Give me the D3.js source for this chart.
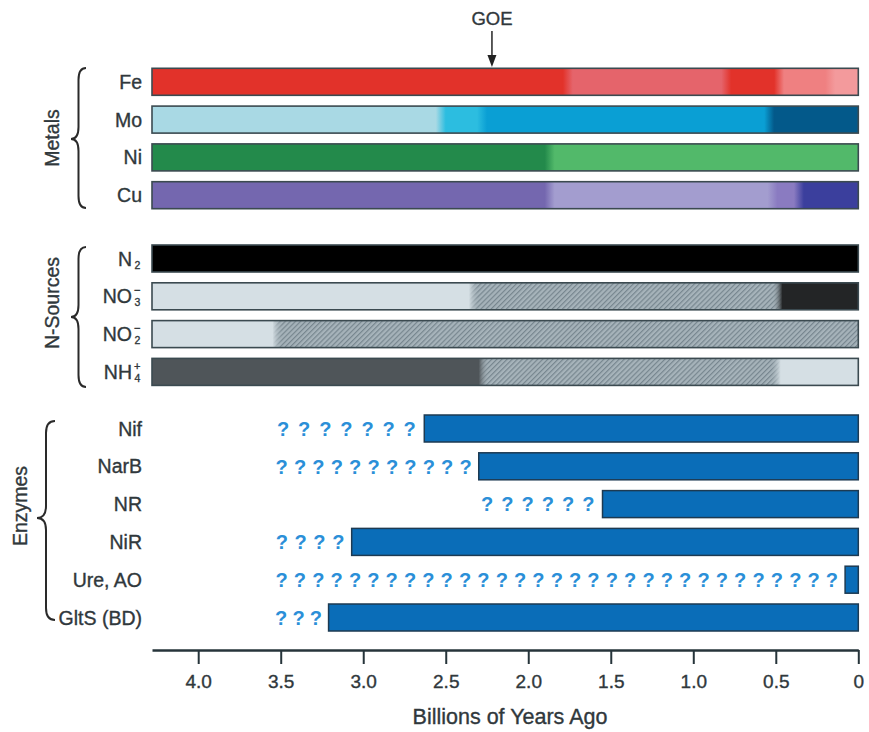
<!DOCTYPE html>
<html>
<head>
<meta charset="utf-8">
<script src="https://cdn.jsdelivr.net/npm/d3@7"></script>
<style>
  body { margin: 0; background: #fff; }
  svg text { font-family: "Liberation Sans", Arial, Helvetica, sans-serif; }
  .lbl { fill: #30383c; stroke: #30383c; stroke-width: 0.35px; }
</style>
</head>
<body>
<svg id="chart" width="869" height="732"></svg>
<script>
// ---- data ----
const axisTicks = [4.0, 3.5, 3.0, 2.5, 2.0, 1.5, 1.0, 0.5, 0];
const goeAge = 2.22;

const metalRows = ["Fe", "Mo", "Ni", "Cu"];
const metalBreaks = [[1.76, 0.80, 0.48, 0.17], [2.53, 2.28, 0.54], [1.87], [1.87, 0.52, 0.36]];
const metalStates = [
    ["feRed", "fePink", "feRed", "feLight", "feLighter"],
    ["moPale", "moCyan", "moBlue", "moDark"],
    ["niDark", "niLight"],
    ["cuPurple", "cuLav", "cuMid", "cuDark"]
];

const nRows = [
    {base: "N", sub: "2"},
    {base: "NO", sub: "3", sup: "\u2212"},
    {base: "NO", sub: "2", sup: "\u2212"},
    {base: "NH", sub: "4", sup: "+"}
];
const nBreaks = [[], [2.33, 0.49], [3.52], [2.27, 0.50]];
const nStates = [["black"], ["light", "hatch", "dark"], ["light", "hatch"], ["slate", "hatch", "light"]];

const enzymeNames = ["Nif", "NarB", "NR", "NiR", "Ure, AO", "GltS (BD)"];
const enzymeStart = [2.63, 2.30, 1.55, 3.07, 0.08, 3.21];
const questionFrom = [3.55, 3.55, 2.31, 3.55, 3.55, 3.55];
const questionCount = [7, 11, 6, 4, 31, 3];

// ---- styles ----
const stateColors = {
    feRed: "#e2322a", fePink: "#e5646b", feLight: "#ef8081", feLighter: "#f39a9c",
    moPale: "#a9d9e4", moCyan: "#2cbde0", moBlue: "#0a9fd4", moDark: "#03598a",
    niDark: "#238a4b", niLight: "#52b96a",
    cuPurple: "#7467af", cuLav: "#a39dcf", cuMid: "#8a7bc1", cuDark: "#3b3f9d",
    black: "#000000", light: "#d5dfe4", dark: "#232526", slate: "#4f5559",
    hatch: "#a3b0b7"
};
const tMax = 4.28;
const rowStep = 37.8;
const barH = 27;
const labelRight = 142;
const blend = 0.06;

const svg = d3.select("#chart");
const defs = svg.append("defs");

const x = d3.scaleLinear().domain([tMax, 0]).range([152, 858.3]);

// hatch pattern for the N-source bars
const pat = defs.append("pattern")
    .attr("id", "hatch")
    .attr("patternUnits", "userSpaceOnUse")
    .attr("width", 3.6).attr("height", 3.6)
    .attr("patternTransform", "rotate(45)");
pat.append("rect").attr("width", 3.6).attr("height", 3.6).attr("fill", "#a6b3ba");
pat.append("line").attr("x1", 0.6).attr("x2", 0.6).attr("y1", 0).attr("y2", 3.6)
    .attr("stroke", "#77868f").attr("stroke-width", 1.2);

function offset(t) {
    return (x(t) - x(tMax)) / (x(0) - x(tMax));
}

function makeGradient(id, breaks, states) {
    let g = defs.append("linearGradient")
        .attr("id", id)
        .attr("gradientUnits", "userSpaceOnUse")
        .attr("x1", x(tMax)).attr("x2", x(0))
        .attr("y1", 0).attr("y2", 0);
    let stops = [{o: 0, s: states[0]}];
    breaks.forEach(function(b, i) {
        stops.push({o: offset(b + blend / 2), s: states[i]});
        stops.push({o: offset(b - blend / 2), s: states[i + 1]});
    });
    stops.push({o: 1, s: states[states.length - 1]});
    g.selectAll("stop").data(stops).enter().append("stop")
        .attr("offset", d => d.o)
        .attr("stop-color", d => stateColors[d.s])
        .attr("stop-opacity", d => d.s === "hatch" ? 0 : 1);
}

function brace(xTip, xEnd, top, bottom, mid) {
    let xm = (xTip + xEnd) / 2;
    let r = 12;
    return "M" + xEnd + "," + top +
        " Q" + xm + "," + top + " " + xm + "," + (top + r) +
        " L" + xm + "," + (mid - r) +
        " Q" + xm + "," + mid + " " + xTip + "," + mid +
        " Q" + xm + "," + mid + " " + xm + "," + (mid + r) +
        " L" + xm + "," + (bottom - r) +
        " Q" + xm + "," + bottom + " " + xEnd + "," + bottom;
}

function groupLabel(text, cx, cy) {
    svg.append("text")
        .attr("class", "lbl")
        .attr("transform", "translate(" + cx + "," + cy + ") rotate(-90)")
        .attr("text-anchor", "middle")
        .attr("dy", "0.35em")
        .style("font-size", "19.5px")
        .text(text);
}

// ---- Metals ----
const yMetal = d3.scaleBand().domain(metalRows).range([68.3, 68.3 + metalRows.length * rowStep]);
metalRows.forEach(function(name, i) {
    makeGradient("metal" + i, metalBreaks[i], metalStates[i]);
});
svg.selectAll(".metal_bar").data(metalRows).enter().append("rect")
    .attr("class", "metal_bar")
    .attr("x", x(tMax)).attr("width", x(0) - x(tMax))
    .attr("y", d => yMetal(d)).attr("height", barH)
    .attr("fill", (d, i) => "url(#metal" + i + ")")
    .attr("stroke", "#3b4a50").attr("stroke-width", 1.6);
svg.selectAll(".metal_label").data(metalRows).enter().append("text")
    .attr("class", "metal_label lbl")
    .attr("x", labelRight).attr("y", d => yMetal(d) + barH / 2)
    .attr("dy", "0.36em").attr("text-anchor", "end")
    .style("font-size", "19.5px")
    .text(d => d);

// ---- N sources ----
const nKeys = nRows.map((d, i) => "n" + i);
const yN = d3.scaleBand().domain(nKeys).range([245, 245 + nRows.length * rowStep]);
nRows.forEach(function(d, i) {
    makeGradient("nsrc" + i, nBreaks[i], nStates[i]);
});
svg.selectAll(".n_hatch").data(nKeys).enter().append("rect")
    .attr("class", "n_hatch")
    .attr("x", x(tMax)).attr("width", x(0) - x(tMax))
    .attr("y", d => yN(d)).attr("height", barH)
    .attr("fill", "url(#hatch)");
svg.selectAll(".n_bar").data(nKeys).enter().append("rect")
    .attr("class", "n_bar")
    .attr("x", x(tMax)).attr("width", x(0) - x(tMax))
    .attr("y", d => yN(d)).attr("height", barH)
    .attr("fill", (d, i) => "url(#nsrc" + i + ")")
    .attr("stroke", "#3b4a50").attr("stroke-width", 1.6);

// formula labels: main text plus stacked sub/superscript
nRows.forEach(function(d, i) {
    let cy = yN(nKeys[i]) + barH / 2;
    svg.append("text")
        .attr("class", "lbl")
        .attr("x", labelRight - 10).attr("y", cy)
        .attr("dy", "0.36em").attr("text-anchor", "end")
        .style("font-size", "19.5px")
        .text(d.base);
    if (d.sub) {
        svg.append("text")
            .attr("class", "lbl")
            .attr("x", labelRight - 7.5).attr("y", cy + 10)
            .style("font-size", "10.5px")
            .text(d.sub);
    }
    if (d.sup) {
        svg.append("text")
            .attr("class", "lbl")
            .attr("x", labelRight - 8).attr("y", cy - 2)
            .style("font-size", "11px")
            .text(d.sup);
    }
});

// ---- Enzymes ----
const yE = d3.scaleBand().domain(enzymeNames).range([415, 415 + enzymeNames.length * rowStep]);
svg.selectAll(".enz_bar").data(enzymeNames).enter().append("rect")
    .attr("class", "enz_bar")
    .attr("x", (d, i) => x(enzymeStart[i]))
    .attr("width", (d, i) => x(0) - x(enzymeStart[i]))
    .attr("y", d => yE(d)).attr("height", barH)
    .attr("fill", "#0a6db8")
    .attr("stroke", "#1d3a52").attr("stroke-width", 1.5);
svg.selectAll(".enz_label").data(enzymeNames).enter().append("text")
    .attr("class", "enz_label lbl")
    .attr("x", labelRight).attr("y", d => yE(d) + barH / 2)
    .attr("dy", "0.36em").attr("text-anchor", "end")
    .style("font-size", "19.5px")
    .text(d => d);

// question marks between questionFrom and the start of each bar
enzymeNames.forEach(function(name, i) {
    let x0 = x(questionFrom[i]);
    let x1 = x(enzymeStart[i]) - 4;
    let step = (x1 - x0) / questionCount[i];
    let marks = d3.range(questionCount[i]);
    svg.selectAll(".q" + i).data(marks).enter().append("text")
        .attr("class", "q" + i)
        .attr("x", k => x0 + (k + 0.5) * step)
        .attr("y", yE(name) + barH / 2)
        .attr("dy", "0.36em")
        .attr("text-anchor", "middle")
        .style("font-size", "20px").style("font-weight", "bold")
        .style("fill", "#2b8fd8")
        .text("?");
});

// ---- braces and group labels ----
svg.append("path").attr("d", brace(71, 86, 68, 208, 139))
    .attr("fill", "none").attr("stroke", "#2a2a2a").attr("stroke-width", 2);
svg.append("path").attr("d", brace(71, 86, 247, 387, 317))
    .attr("fill", "none").attr("stroke", "#2a2a2a").attr("stroke-width", 2);
svg.append("path").attr("d", brace(37, 55, 421, 620, 518))
    .attr("fill", "none").attr("stroke", "#2a2a2a").attr("stroke-width", 2);
groupLabel("Metals", 52, 138);
groupLabel("N-Sources", 52, 303);
groupLabel("Enzymes", 20, 506);

// ---- GOE marker ----
svg.append("text")
    .attr("class", "lbl")
    .attr("x", x(goeAge)).attr("y", 25)
    .attr("text-anchor", "middle")
    .style("font-size", "18.5px")
    .text("GOE");
svg.append("line")
    .attr("x1", x(goeAge)).attr("x2", x(goeAge))
    .attr("y1", 31).attr("y2", 58)
    .attr("stroke", "#333").attr("stroke-width", 1.6);
svg.append("path")
    .attr("d", "M" + (x(goeAge) - 4.5) + ",55 L" + (x(goeAge) + 4.5) + ",55 L" + x(goeAge) + ",67 Z")
    .attr("fill", "#222");

// ---- time axis ----
const axis = d3.axisBottom(x)
    .tickValues(axisTicks)
    .tickFormat(d => d === 0 ? "0" : d3.format(".1f")(d))
    .tickSize(14)
    .tickSizeOuter(0)
    .tickPadding(11);
const axisG = svg.append("g")
    .attr("transform", "translate(0,650)")
    .call(axis);
axisG.select(".domain").attr("stroke", "#26343a").attr("stroke-width", 2.6);
axisG.selectAll(".tick line").attr("stroke", "#26343a").attr("stroke-width", 2);
axisG.selectAll(".tick text")
    .attr("class", "lbl")
    .style("font-size", "19px")
    .style("font-family", "'Liberation Sans', Arial, sans-serif");

svg.append("text")
    .attr("class", "lbl")
    .attr("x", 510).attr("y", 724)
    .attr("text-anchor", "middle")
    .style("font-size", "21.5px")
    .text("Billions of Years Ago");
</script>
</body>
</html>
